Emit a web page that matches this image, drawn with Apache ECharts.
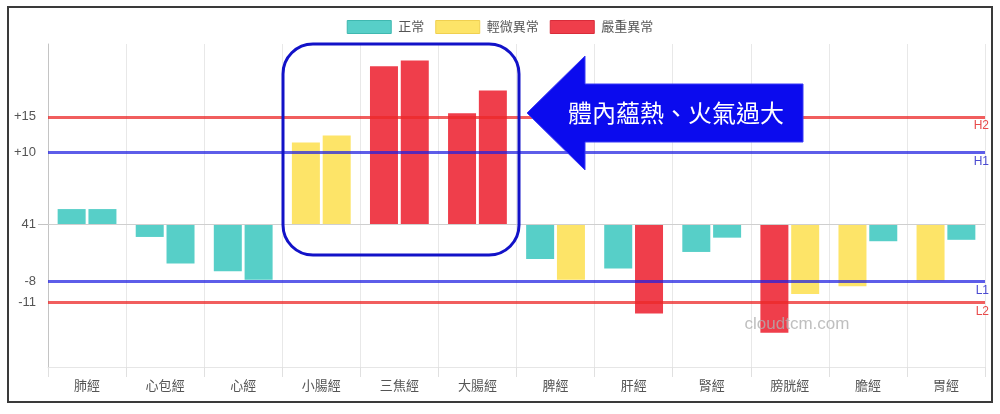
<!DOCTYPE html>
<html>
<head>
<meta charset="utf-8">
<script src="https://cdn.jsdelivr.net/npm/echarts@6/dist/echarts.min.js"></script>
<style>
  html, body { margin: 0; padding: 0; background: #fff; }
  #chart { width: 1000px; height: 414px; }
</style>
</head>
<body>
<div id="chart"></div>
<script>
var categories = ['肺經', '心包經', '心經', '小腸經', '三焦經', '大腸經', '脾經', '肝經', '腎經', '膀胱經', '膽經', '胃經'];
// left / right readings, relative to the 41 baseline
var leftValues = [2.1, -1.8, -6.6, 11.4, 22.1, 15.5, -4.9, -6.2, -3.9, -15.2, -8.7, -7.9];
var rightValues = [2.1, -5.5, -7.8, 12.4, 22.9, 18.7, -7.8, -12.5, -1.9, -9.8, -2.4, -2.2];
// 0 = 正常, 1 = 輕微異常, 2 = 嚴重異常
var leftStatus = [0, 0, 0, 1, 2, 2, 0, 0, 0, 2, 1, 1];
var rightStatus = [0, 0, 0, 1, 2, 2, 1, 2, 0, 1, 0, 0];
var statusNames = ['正常', '輕微異常', '嚴重異常'];
var statusColors = ['#57cfc8', '#fde468', '#ef3e4b'];
var statusBorders = ['#3fb8b0', '#f0d050', '#d92c3a'];
var yTickValues = [-11, -8, 0, 10, 15];
var yTickLabels = ['-11', '-8', '41', '+10', '+15'];
var refLines = [
    {name: 'H2', value: 15, color: 'rgba(236,40,40,0.75)', text: '#e84a4a'},
    {name: 'H1', value: 10, color: 'rgba(30,30,225,0.72)', text: '#4a4ad0'},
    {name: 'L1', value: -8, color: 'rgba(30,30,225,0.72)', text: '#4a4ad0'},
    {name: 'L2', value: -11, color: 'rgba(236,40,40,0.75)', text: '#e84a4a'}
];

var font = '"Liberation Sans", "Noto Sans CJK TC", sans-serif';

function coloured(values, status) {
    return values.map(function (v, i) {
        return {value: v, itemStyle: {color: statusColors[status[i]]}};
    });
}

var myChart = echarts.init(document.getElementById('chart'), null, {renderer: 'canvas'});

var series = [
    {
        name: '左',
        type: 'bar',
        data: coloured(leftValues, leftStatus),
        barWidth: 28,
        barGap: '10%'
    },
    {
        name: '右',
        type: 'bar',
        data: coloured(rightValues, rightStatus),
        barWidth: 28,
        barGap: '10%'
    },
    {
        // baseline and reference lines
        name: 'ref',
        type: 'line',
        data: [],
        z: 5,
        markLine: {
            silent: true,
            symbol: 'none',
            animation: false,
            data: [{yAxis: 0, lineStyle: {color: '#cfcfcf', width: 1, type: 'solid'}, label: {show: false}}].concat(
                refLines.map(function (r) {
                    return {
                        yAxis: r.value,
                        lineStyle: {color: r.color, width: 3, type: 'solid'},
                        label: {
                            show: true,
                            formatter: r.name,
                            position: 'insideEndBottom',
                            color: r.text,
                            fontSize: 12,
                            fontFamily: font,
                            distance: [-4, 3]
                        }
                    };
                })
            )
        }
    }
];

// empty series only for the legend entries
statusNames.forEach(function (n, i) {
    series.push({name: n, type: 'line', data: [], itemStyle: {color: statusColors[i]}});
});

var option = {
    animation: false,
    textStyle: {fontFamily: font},
    legend: {
        top: 15,
        left: 'center',
        itemWidth: 44,
        itemHeight: 13,
        itemGap: 11,
        textStyle: {color: '#555', fontSize: 13, fontFamily: font, padding: [0, 0, 0, 2]},
        data: statusNames.map(function (n, i) {
            return {
                name: n,
                icon: 'rect',
                itemStyle: {color: statusColors[i], borderColor: statusBorders[i], borderWidth: 1}
            };
        })
    },
    grid: {left: 48, right: 15, top: 44, bottom: 47},
    xAxis: {
        type: 'category',
        data: categories,
        axisLine: {onZero: false, lineStyle: {color: '#e6e6e6'}},
        axisTick: {show: true, length: 10, alignWithLabel: false, lineStyle: {color: '#e0e0e0'}},
        axisLabel: {color: '#555', fontSize: 13, margin: 13, fontFamily: font},
        splitLine: {show: true, lineStyle: {color: '#e8e8e8'}}
    },
    yAxis: {
        type: 'value',
        min: -20,
        max: 25.2,
        axisLine: {show: true, lineStyle: {color: '#c4c4c4'}},
        axisTick: {show: true, length: 10, customValues: [0], lineStyle: {color: '#c4c4c4'}},
        axisLabel: {
            customValues: yTickValues,
            color: '#555',
            fontSize: 13,
            margin: 12,
            fontFamily: font,
            formatter: function (v) {
                var k = yTickValues.indexOf(v);
                return k >= 0 ? yTickLabels[k] : '';
            }
        },
        splitLine: {show: false}
    },
    graphic: [
        {
            type: 'rect',
            z: -1,
            shape: {x: 8, y: 7, width: 984, height: 395},
            style: {fill: 'none', stroke: '#3a3a3a', lineWidth: 2}
        },
        {
            type: 'rect',
            z: 20,
            shape: {x: 283, y: 44, width: 236, height: 211, r: 30},
            style: {fill: 'none', stroke: '#1212c8', lineWidth: 3}
        },
        {
            type: 'polygon',
            z: 20,
            shape: {points: [[527, 113], [585, 56], [585, 84], [803, 84], [803, 142], [585, 142], [585, 170]]},
            style: {fill: '#0b0bee', stroke: '#3a3af5', lineWidth: 1}
        },
        {
            type: 'text',
            z: 21,
            x: 676,
            y: 113,
            style: {
                text: '體內蘊熱、火氣過大',
                fill: '#ffffff',
                font: '24px "Noto Sans CJK TC", sans-serif',
                align: 'center',
                verticalAlign: 'middle'
            }
        },
        {
            // watermark sits above the bars
            type: 'text',
            zlevel: 1,
            z: 21,
            x: 797,
            y: 324,
            style: {
                text: 'cloudtcm.com',
                fill: 'rgba(175,175,175,0.8)',
                font: '17px "Liberation Sans", sans-serif',
                align: 'center',
                verticalAlign: 'middle'
            }
        }
    ],
    series: series
};

myChart.setOption(option);
</script>
</body>
</html>
